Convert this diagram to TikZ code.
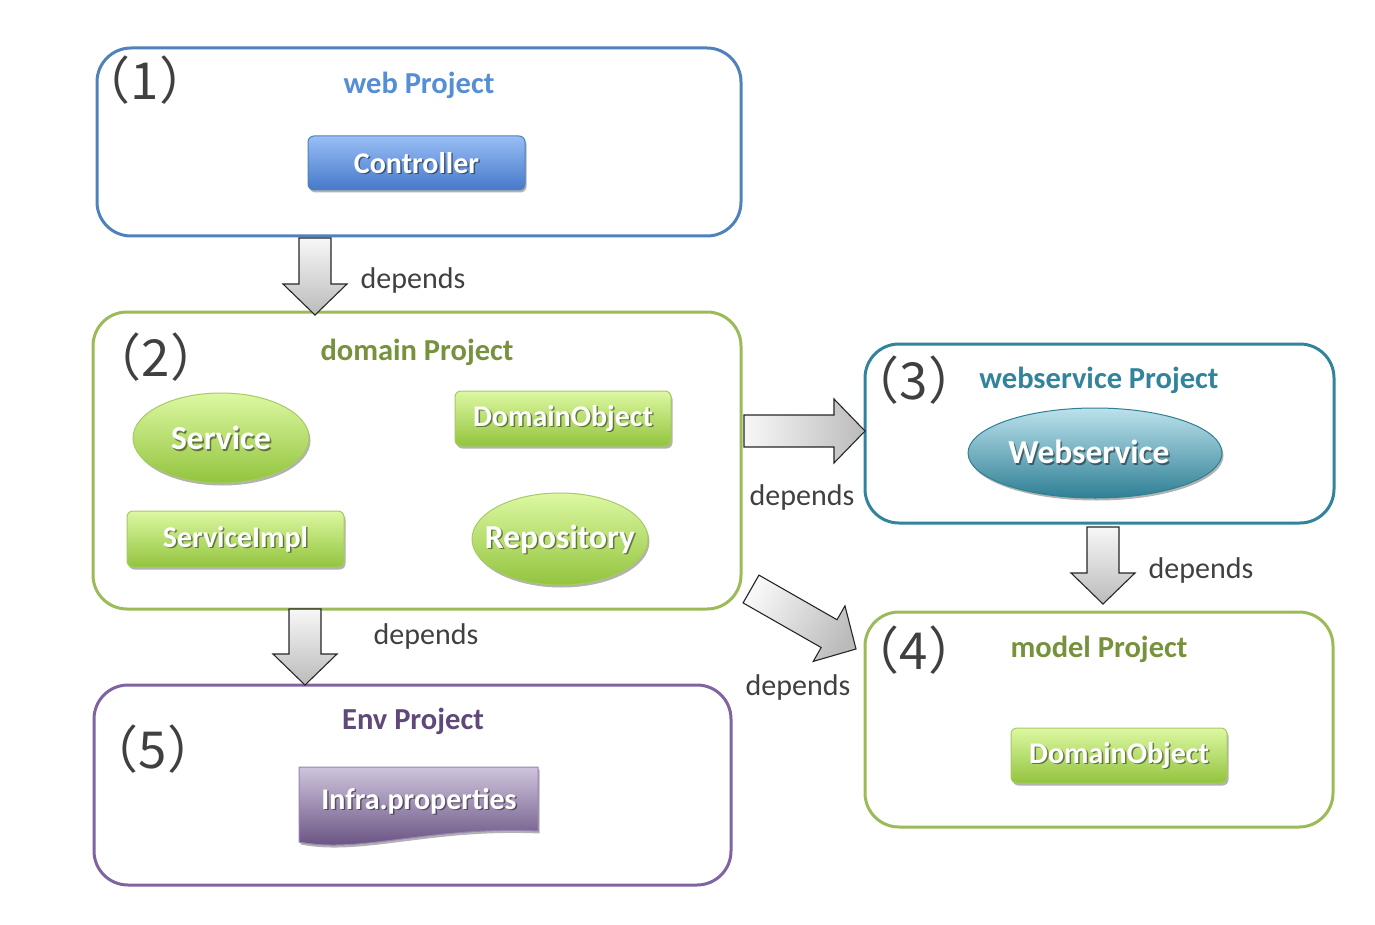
\documentclass[tikz,border=0pt]{standalone}
\usepackage{fontspec}
\setmainfont{Carlito}
\newfontfamily\cjk{Noto Sans CJK JP}
\usetikzlibrary{calc,shadows,shapes.geometric}
\definecolor{webblue}{HTML}{4F81BD}
\definecolor{webtitle}{HTML}{558ED5}
\definecolor{bluetop}{HTML}{98BEF6}
\definecolor{bluebot}{HTML}{4679C9}
\definecolor{grn}{HTML}{9BBB59}
\definecolor{grntitle}{HTML}{76923C}
\definecolor{grntop}{HTML}{DDF8A2}
\definecolor{grnbot}{HTML}{92C43E}
\definecolor{grnline}{HTML}{A6CB62}
\definecolor{tealc}{HTML}{31849B}
\definecolor{tealtop}{HTML}{BCE2EC}
\definecolor{tealbot}{HTML}{2F7F95}
\definecolor{purp}{HTML}{8064A2}
\definecolor{purptitle}{HTML}{5F497A}
\definecolor{purptop}{HTML}{CFC4DD}
\definecolor{purpbot}{HTML}{5F4879}
\definecolor{txtgray}{HTML}{404040}
\definecolor{arrlight}{HTML}{F7F7F7}
\definecolor{arrdark}{HTML}{BBBBBB}
\tikzset{
  proj/.style={draw=#1, line width=3pt, rounded corners=34pt, fill=white, inner sep=0pt},
  titletext/.style={font=\bfseries\fontsize{30.5}{34}\selectfont, text=#1},
  numtext/.style={font=\cjk\fontsize{51}{56}\selectfont, text=txtgray},
  deptext/.style={font=\fontsize{30}{34}\selectfont, text=txtgray},
  btnfont/.style={font=\bfseries\fontsize{30}{34}\selectfont},
  ellfont/.style={font=\bfseries\fontsize{33.5}{38}\selectfont},
  tshadow/.style={path picture={\node[btnfont, text=black, opacity=0.45, inner sep=0pt]
      at ($(path picture bounding box.center)+(1.5,1.5)$) {#1};}},
  shadowtxt/.style={text=black, opacity=0.45},
  dshadow/.style={drop shadow={shadow xshift=1.5pt, shadow yshift=-2.5pt, opacity=0.3, fill=black}},
  greenbtn/.style={rectangle, rounded corners=6pt, draw=grnline, line width=1pt,
      top color=grntop, bottom color=grnbot, dshadow, btnfont, text=white,
      minimum width=216pt, minimum height=55pt, inner sep=0pt, tshadow={#1}},
  greenell/.style={ellipse, draw=grnline, line width=1pt,
      top color=grntop, bottom color=grnbot, dshadow, inner sep=0pt},
  bigarrowstyle/.style={draw=black!85, line width=1.1pt, line join=miter},
}
\newcommand\bigarrow[4]{%
  \coordinate (#3-b) at ($(#2)!31pt!(#1)$);
  \path[bigarrowstyle,#4] ($(#1)!16pt!90:(#2)$) -- ($(#3-b)!16pt!90:(#2)$)
    -- ($(#3-b)!32pt!90:(#2)$) -- (#2) -- ($(#3-b)!32pt!-90:(#2)$)
    -- ($(#3-b)!16pt!-90:(#2)$) -- ($(#1)!16pt!-90:(#2)$) -- cycle;
}
\begin{document}
\begin{tikzpicture}[x=1pt,y=-1pt]
\useasboundingbox (0,0) rectangle (1375,925);
% project boxes
\node[proj=webblue, minimum width=644pt, minimum height=188pt] (web) at (419,142) {};
\node[proj=grn, minimum width=648pt, minimum height=297pt] (domain) at (417,460.5) {};
\node[proj=tealc, minimum width=469pt, minimum height=179pt] (ws) at (1099.5,433.5) {};
\node[proj=grn, minimum width=468pt, minimum height=215pt] (model) at (1099,719.5) {};
\node[proj=purp, minimum width=637pt, minimum height=200pt] (env) at (412.5,785) {};
% titles
\node[titletext=webtitle] (webt) at (419,85) {web Project};
\node[titletext=grntitle] (domt) at (417,352) {domain Project};
\node[titletext=tealc] (wst) at (1099,380) {webservice Project};
\node[titletext=grntitle] (modt) at (1099,649) {model Project};
\node[titletext=purptitle] (envt) at (413,721) {Env Project};
% numbers
\node[numtext] (n1) at (145,80) {（1）};
\node[numtext] (n2) at (156,357) {（2）};
\node[numtext] (n3) at (914,380) {（3）};
\node[numtext] (n4) at (914,650) {（4）};
\node[numtext] (n5) at (153,749) {（5）};
% web project content
\node[rectangle, rounded corners=6pt, draw=webblue, line width=1pt,
      top color=bluetop, bottom color=bluebot, dshadow, btnfont, text=white,
      minimum width=217pt, minimum height=54pt, inner sep=0pt, tshadow={Controller}]
      (ctrl) at (416.5,163) {Controller};
% domain project content
\node[greenell, minimum width=176pt, minimum height=90pt] (svc) at (221,438) {};
\node[ellfont, shadowtxt] at ($(svc)+(1.5,1.5)$) {Service};
\node[ellfont, text=white] (svct) at (svc) {Service};
\node[greenbtn={DomainObject}] (dobj) at (563,418.5) {DomainObject};
\node[greenbtn={ServiceImpl}, minimum width=217pt, minimum height=56pt] (simpl) at (235.5,539) {ServiceImpl};
\node[greenell, minimum width=176pt, minimum height=92pt] (repo) at (560,539) {};
\node[ellfont, shadowtxt] at ($(repo)+(1.5,1.5)$) {Repository};
\node[ellfont, text=white] (repot) at (repo) {Repository};
% webservice content
\node[ellipse, draw=tealbot, line width=1pt, top color=tealtop, bottom color=tealbot,
      dshadow, inner sep=0pt, minimum width=254pt, minimum height=90pt]
      (wsell) at (1095,453) {};
\node[ellfont, shadowtxt] at ($(wsell)+(-4.5,0.5)$) {Webservice};
\node[ellfont, text=white] (wsellt) at ($(wsell)+(-6,-1)$) {Webservice};
% model content
\node[greenbtn={DomainObject}] (mobj) at (1119,755.5) {DomainObject};
% env content
\path[draw=purp!80, line width=1pt, top color=purptop, bottom color=purpbot, dshadow]
  (299,767) -- (538,767) -- (538,831)
  .. controls (430,826) and (360,854) .. (299,842) -- cycle;
\node[btnfont, shadowtxt] at (420.5,802.5) {Infra.properties};
\node[btnfont, text=white] (infra) at (419,801) {Infra.properties};
% arrows
\coordinate (a1s) at (315,238);
\coordinate (a1e) at (315,315);
\bigarrow{a1s}{a1e}{a1}{top color=arrlight, bottom color=arrdark}
\coordinate (a2s) at (305,609);
\coordinate (a2e) at (305,685);
\bigarrow{a2s}{a2e}{a2}{top color=arrlight, bottom color=arrdark}
\coordinate (a3s) at (744,431);
\coordinate (a3e) at (865,431);
\bigarrow{a3s}{a3e}{a3}{left color=arrlight, right color=arrdark}
\coordinate (a4s) at (751,589);
\coordinate (a4e) at (856,649);
\bigarrow{a4s}{a4e}{a4}{top color=arrlight, bottom color=arrdark, shading angle=60}
\coordinate (a5s) at (1103,527);
\coordinate (a5e) at (1103,604);
\bigarrow{a5s}{a5e}{a5}{top color=arrlight, bottom color=arrdark}
% depends labels
\node[deptext] (d1) at (413,281) {depends};
\node[deptext] (d2) at (426,636) {depends};
\node[deptext] (d3) at (802,497) {depends};
\node[deptext] (d4) at (798,687) {depends};
\node[deptext] (d5) at (1201,570) {depends};
\end{tikzpicture}
\end{document}
